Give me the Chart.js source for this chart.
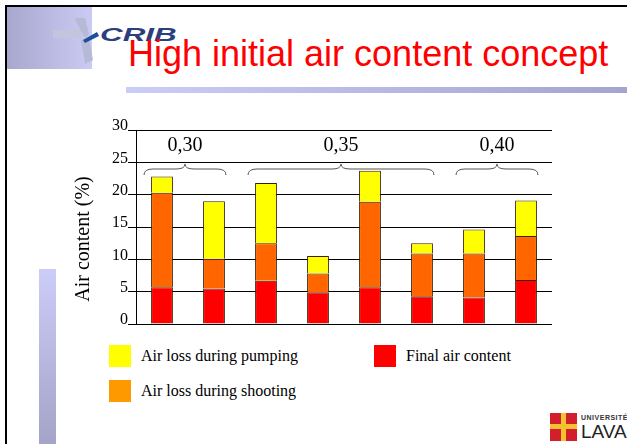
<!DOCTYPE html>
<html lang="en">
<head>
  <meta charset="UTF-8">
  <title>High initial air content concept</title>
  <script src="https://cdn.jsdelivr.net/npm/chart.js"></script>
  <style>
    body {
      margin: 0;
      width: 627px;
      height: 444px;
      background: #fff;
      position: relative;
      overflow: hidden;
      font-family: "Liberation Serif", serif;
    }
    .abs { position: absolute; }
    #frameTop { left: 5px; top: 5px; width: 622px; height: 2px; background: #000; }
    #frameLeft { left: 5px; top: 5px; width: 2px; height: 439px; background: #000; }
    #logoBox { left: 7px; top: 7px; width: 85px; height: 62px;
      background: linear-gradient(to right, #a8a8ce, #cacaf4); }
    #crib { left: 100px; top: 24px; font: italic bold 19px "Liberation Sans", sans-serif;
      color: #2c3e7c; transform: scaleX(1.65); transform-origin: left; }
    #title { left: 128px; top: 36px; font: 36px "Liberation Sans", Arial, sans-serif;
      color: #ff0000; line-height: 1; white-space: nowrap; }
    #titleBar { left: 126px; top: 87px; width: 501px; height: 6px;
      background: linear-gradient(to right, #ccccf8, #a4a4cc); }
    #sideBar { left: 39px; top: 269px; width: 17px; height: 175px;
      background: linear-gradient(to bottom, #ccccf8, #a4a4c8); }
    #chartBox { left: 59px; top: 110px; width: 520px; height: 230px; }
    .key { position: absolute; width: 22px; height: 22px; }
    .keyText { position: absolute; font-size: 16px; color: #000; white-space: nowrap; line-height: 22px; }
    #laval { left: 550px; top: 413px; }
  </style>
</head>
<body>
  <div class="abs" id="frameTop"></div>
  <div class="abs" id="frameLeft"></div>
  <div class="abs" id="logoBox"></div>
  <svg class="abs" style="left:45px;top:12px" width="60" height="60">
    <polygon points="8,18 36,18 36,26 8,26" fill="#c2c5dc"/>
    <polygon points="30,6 40,6 44,22 40,26 30,8" fill="#b6bad4"/>
    <polygon points="36,28 44,26 48,48 40,52" fill="#b6bad4"/>
    <polygon points="38,28 52,20 54,24 40,31" fill="#1f4f9a"/>
  </svg>
  <div class="abs" id="crib">CRIB</div>
  <div class="abs" id="title">High initial air content concept</div>
  <div class="abs" id="titleBar"></div>
  <div class="abs" id="sideBar"></div>

  <div class="abs" id="chartBox">
    <canvas id="airChart" width="520" height="230"></canvas>
  </div>

  <div id="legend"></div>

  <div class="abs" id="laval">
    <div style="position:absolute;left:0;top:0;width:27px;height:28px;background:#d21f2b;"></div>
    <div style="position:absolute;left:11px;top:0;width:5px;height:28px;background:#f2c230;"></div>
    <div style="position:absolute;left:0;top:11px;width:27px;height:5px;background:#f2c230;"></div>
    <div style="position:absolute;left:31px;top:1px;font:bold 7px 'Liberation Sans',sans-serif;color:#333;letter-spacing:0.5px;">UNIVERSITÉ</div>
    <div style="position:absolute;left:31px;top:9px;font:19px 'Liberation Sans',sans-serif;color:#222;line-height:1;">LAVAL</div>
  </div>

  <script>
    // mixes, grouped by w/c ratio
    const mixes = ['1', '2', '3', '4', '5', '6', '7', '8'];
    const wcRatios = ['0,30', '0,35', '0,40'];
    const groupSizes = [2, 4, 2];

    // air content (%), stacked from bottom
    const finalAir = [5.7, 5.5, 6.7, 4.9, 5.7, 4.3, 4.1, 6.8];
    const lossShooting = [14.6, 4.6, 5.8, 2.9, 13.2, 6.6, 6.8, 6.8];
    const lossPumping = [2.5, 8.9, 9.3, 2.7, 4.8, 1.6, 3.7, 5.5];

    const seriesNames = ['Final air content', 'Air loss during shooting', 'Air loss during pumping'];
    const yTitle = 'Air content (%)';

    // legend (two columns like the slide)
    const legendItems = [
      { name: seriesNames[2], color: '#ffff00', x: 109, y: 345 },
      { name: seriesNames[1], color: '#ff9900', x: 109, y: 380 },
      { name: seriesNames[0], color: '#ff0000', x: 374, y: 345 }
    ];
    const legendEl = document.getElementById('legend');
    legendItems.forEach(it => {
      const box = document.createElement('div');
      box.className = 'key';
      box.style.left = it.x + 'px';
      box.style.top = it.y + 'px';
      box.style.background = it.color;
      legendEl.appendChild(box);
      const txt = document.createElement('div');
      txt.className = 'keyText';
      txt.style.left = (it.x + 32) + 'px';
      txt.style.top = it.y + 'px';
      txt.textContent = it.name;
      legendEl.appendChild(txt);
    });

    function drawBrace(ctx, x0, x1, y) {
      const xm = (x0 + x1) / 2, r = 9;
      ctx.beginPath();
      ctx.moveTo(x0, y + 6);
      ctx.quadraticCurveTo(x0, y, x0 + r, y);
      ctx.lineTo(xm - r, y);
      ctx.quadraticCurveTo(xm, y, xm, y - 5);
      ctx.quadraticCurveTo(xm, y, xm + r, y);
      ctx.lineTo(x1 - r, y);
      ctx.quadraticCurveTo(x1, y, x1, y + 6);
      ctx.stroke();
    }

    // braces + w/c labels above the bars, and the y title (sits a bit low on the slide)
    const bracePlugin = {
      id: 'braces',
      afterDatasetsDraw(chart) {
        const { ctx, chartArea } = chart;
        const x = chart.scales.x;
        ctx.save();
        ctx.strokeStyle = '#555';
        ctx.lineWidth = 1;
        ctx.fillStyle = '#000';
        ctx.font = '20px "Liberation Serif"';
        ctx.textAlign = 'center';
        ctx.textBaseline = 'middle';
        let start = 0;
        wcRatios.forEach((label, i) => {
          const end = start + groupSizes[i] - 1;
          const x0 = x.getPixelForValue(start) - 18;
          const x1 = x.getPixelForValue(end) + 12;
          drawBrace(ctx, x0, x1, chartArea.top + 39);
          ctx.fillText(label, (x0 + x1) / 2, chartArea.top + 16);
          start = end + 1;
        });

        ctx.translate(25, (chartArea.top + chartArea.bottom) / 2 + 12);
        ctx.rotate(-Math.PI / 2);
        ctx.fillText(yTitle, 0, 0);
        ctx.restore();
      }
    };

    const barBase = {
      borderColor: '#3a2200',
      borderWidth: 1,
      barPercentage: 0.42,
      categoryPercentage: 1
    };

    new Chart(document.getElementById('airChart'), {
      type: 'bar',
      data: {
        labels: mixes,
        datasets: [
          { ...barBase, label: seriesNames[0], data: finalAir, backgroundColor: '#ff0000' },
          { ...barBase, label: seriesNames[1], data: lossShooting, backgroundColor: '#ff6600' },
          { ...barBase, label: seriesNames[2], data: lossPumping, backgroundColor: '#ffff00' }
        ]
      },
      options: {
        responsive: false,
        animation: false,
        layout: { padding: { top: 20, right: 27, bottom: 16, left: 0 } },
        plugins: { legend: { display: false }, tooltip: { enabled: false } },
        scales: {
          x: { stacked: true, display: false },
          y: {
            stacked: true,
            min: 0,
            max: 30,
            ticks: {
              stepSize: 5,
              padding: 0,
              labelOffset: -4,
              color: '#000',
              font: { family: 'Liberation Serif', size: 16 }
            },
            grid: { color: '#000', lineWidth: 1, tickLength: 8 },
            border: { display: true, color: '#000', width: 1 },
            afterFit(scale) { scale.width = 77; }
          }
        }
      },
      plugins: [bracePlugin]
    });
  </script>
</body>
</html>
